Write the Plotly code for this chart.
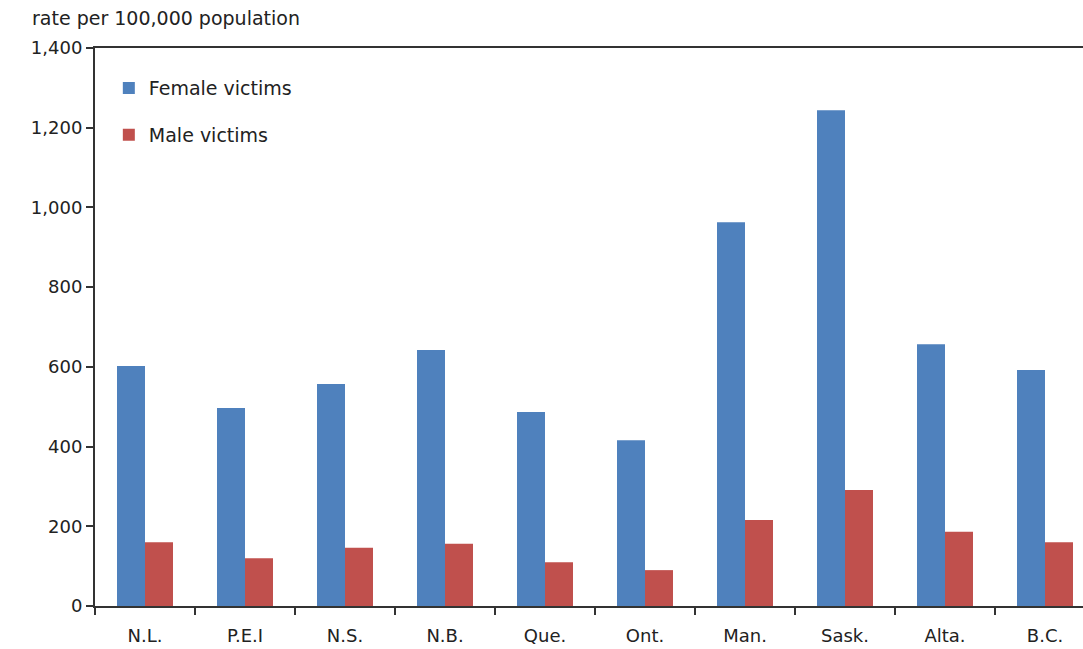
import plotly.graph_objects as go

provinces = ["N.L.", "P.E.I", "N.S.", "N.B.", "Que.", "Ont.", "Man.", "Sask.", "Alta.", "B.C."]
female_rates = [602, 497, 557, 642, 487, 416, 963, 1244, 657, 592]
male_rates = [160, 120, 146, 156, 110, 90, 216, 291, 186, 160]
y_ticks = [0, 200, 400, 600, 800, 1000, 1200, 1400]

FONT = "Verdana, DejaVu Sans, sans-serif"
FS = 18
TXT = "#222222"
AX = "#333333"

fig = go.Figure()
fig.add_trace(go.Bar(x=list(range(len(provinces))), y=female_rates, name="Female victims",
                     marker=dict(color="#4F81BD", line=dict(width=0)), legendgroup="f"))
fig.add_trace(go.Bar(x=list(range(len(provinces))), y=male_rates, name="Male victims",
                     marker=dict(color="#C0504D", line=dict(width=0)), legendgroup="m"))

fig.update_layout(
    width=1083, height=649,
    margin=dict(l=95, r=0, t=48, b=43, autoexpand=False),
    paper_bgcolor="white", plot_bgcolor="white",
    barmode="group", bargap=0.44, bargroupgap=0,
    font=dict(family=FONT, size=FS, color=TXT),
    showlegend=True,
    legend=dict(x=0.014, y=0.962, xanchor="left", yanchor="top",
                bgcolor="rgba(0,0,0,0)", traceorder="grouped", tracegroupgap=19,
                font=dict(family=FONT, size=19, color=TXT),
                itemwidth=30),
    xaxis=dict(
        range=[-0.5, 9.38],
        tickmode="array", tickvals=list(range(len(provinces))), ticktext=provinces,
        showgrid=False, zeroline=False,
        showline=True, linecolor=AX, linewidth=2, mirror=True,
        ticks="", ticklabelstandoff=12,
        minor=dict(tickmode="array", tickvals=[i - 0.5 for i in range(len(provinces) + 1)],
                   ticks="outside", ticklen=7, tickcolor=AX, tickwidth=2),
    ),
    yaxis=dict(
        range=[0, 1400], tickvals=y_ticks, tickformat=",d",
        showgrid=False, zeroline=False,
        showline=True, linecolor=AX, linewidth=2,
        ticks="outside", ticklen=7, tickcolor=AX, tickwidth=2,
    ),
)
fig.add_annotation(text="rate per 100,000 population", xref="paper", yref="paper",
                   x=(30 - 95) / 988, y=1 + (48 - 18) / 558, xanchor="left", yanchor="middle",
                   showarrow=False, font=dict(family=FONT, size=19, color=TXT))

fig.write_html("out.html", config={"displayModeBar": False},
               post_script="document.body.style.margin='0';document.body.style.overflow='hidden';")
